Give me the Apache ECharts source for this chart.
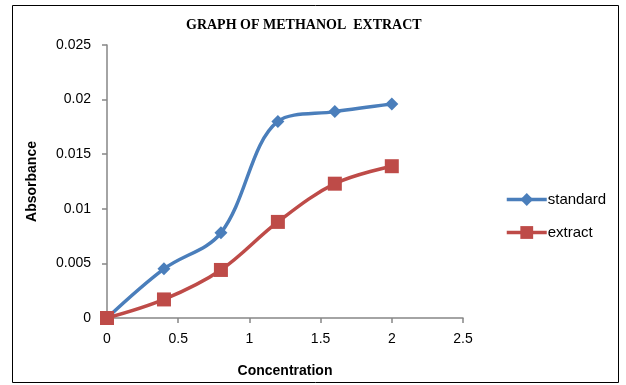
<!DOCTYPE html>
<html>
<head>
<meta charset="utf-8">
<script src="https://cdn.jsdelivr.net/npm/echarts@6/dist/echarts.min.js"></script>
<style>
  html, body { margin: 0; padding: 0; background: #fff; }
  #chart { width: 626px; height: 385px; }
</style>
</head>
<body>
<div id="chart"></div>
<script>
const concentration = [0, 0.4, 0.8, 1.2, 1.6, 2.0];
const standardValues = [0, 0.0045, 0.0078, 0.018, 0.0189, 0.0196];
const extractValues = [0, 0.0017, 0.0044, 0.0088, 0.0123, 0.0139];
const xTicks = [0, 0.5, 1, 1.5, 2, 2.5];
const yTicks = [0, 0.005, 0.01, 0.015, 0.02, 0.025];

const pairs = (xs, ys) => xs.map((x, i) => [x, ys[i]]);

const myChart = echarts.init(document.getElementById("chart"));
const axisColor = "#868686";
const labelFont = "'Liberation Sans', Arial, sans-serif";

const option = {
  animation: false,
  title: {
    text: "GRAPH OF METHANOL  EXTRACT",
    left: 181,
    top: 13,
    textStyle: {
      fontFamily: "'Liberation Serif', 'Times New Roman', serif",
      fontWeight: "bold",
      fontSize: 14,
      color: "#000",
    },
  },
  graphic: [
    {
      type: "rect",
      shape: { x: 12.5, y: 5.5, width: 606, height: 377 },
      style: { fill: "none", stroke: "#000", lineWidth: 1 },
      silent: true,
    },
  ],
  legend: {
    orient: "vertical",
    left: 500,
    top: 187,
    itemWidth: 40,
    itemHeight: 16,
    itemGap: 18,
    lineStyle: { width: 3.5 },
    textStyle: { fontFamily: labelFont, fontSize: 15, color: "#000", padding: [0, 0, 0, -4] },
    data: ["standard", "extract"],
  },
  grid: { left: 107, top: 45, right: 163, bottom: 67 },
  xAxis: {
    type: "value",
    min: xTicks[0],
    max: xTicks[xTicks.length - 1],
    interval: 0.5,
    name: "Concentration",
    nameLocation: "middle",
    nameGap: 46,
    nameTextStyle: { fontFamily: labelFont, fontWeight: "bold", fontSize: 14, color: "#000" },
    axisLine: { lineStyle: { color: axisColor, width: 1.5 } },
    axisTick: { length: 5, lineStyle: { color: axisColor, width: 1.5 } },
    axisLabel: { fontFamily: labelFont, fontSize: 14, color: "#000", margin: 14 },
    splitLine: { show: false },
  },
  yAxis: {
    type: "value",
    min: yTicks[0],
    max: yTicks[yTicks.length - 1],
    interval: 0.005,
    name: "Absorbance",
    nameLocation: "middle",
    nameGap: 68,
    nameTextStyle: { fontFamily: labelFont, fontWeight: "bold", fontSize: 14, color: "#000" },
    axisLine: { show: true, lineStyle: { color: axisColor, width: 1.5 } },
    axisTick: { show: true, length: 5, lineStyle: { color: axisColor, width: 1.5 } },
    axisLabel: { fontFamily: labelFont, fontSize: 14, color: "#000", margin: 16 },
    splitLine: { show: false },
  },
  series: [
    {
      name: "standard",
      type: "line",
      data: pairs(concentration, standardValues),
      smooth: 0.35,
      symbol: "diamond",
      symbolSize: 13,
      lineStyle: { color: "#4A7EBB", width: 3.5 },
      itemStyle: { color: "#4A7EBB" },
      z: 3,
    },
    {
      name: "extract",
      type: "line",
      data: pairs(concentration, extractValues),
      smooth: 0.35,
      symbol: "rect",
      symbolSize: 14,
      lineStyle: { color: "#BE4B48", width: 3.5 },
      itemStyle: { color: "#BE4B48" },
      z: 4,
    },
  ],
};

option && myChart.setOption(option);

window.addEventListener("resize", () => {
  myChart.resize();
});
</script>
</body>
</html>
